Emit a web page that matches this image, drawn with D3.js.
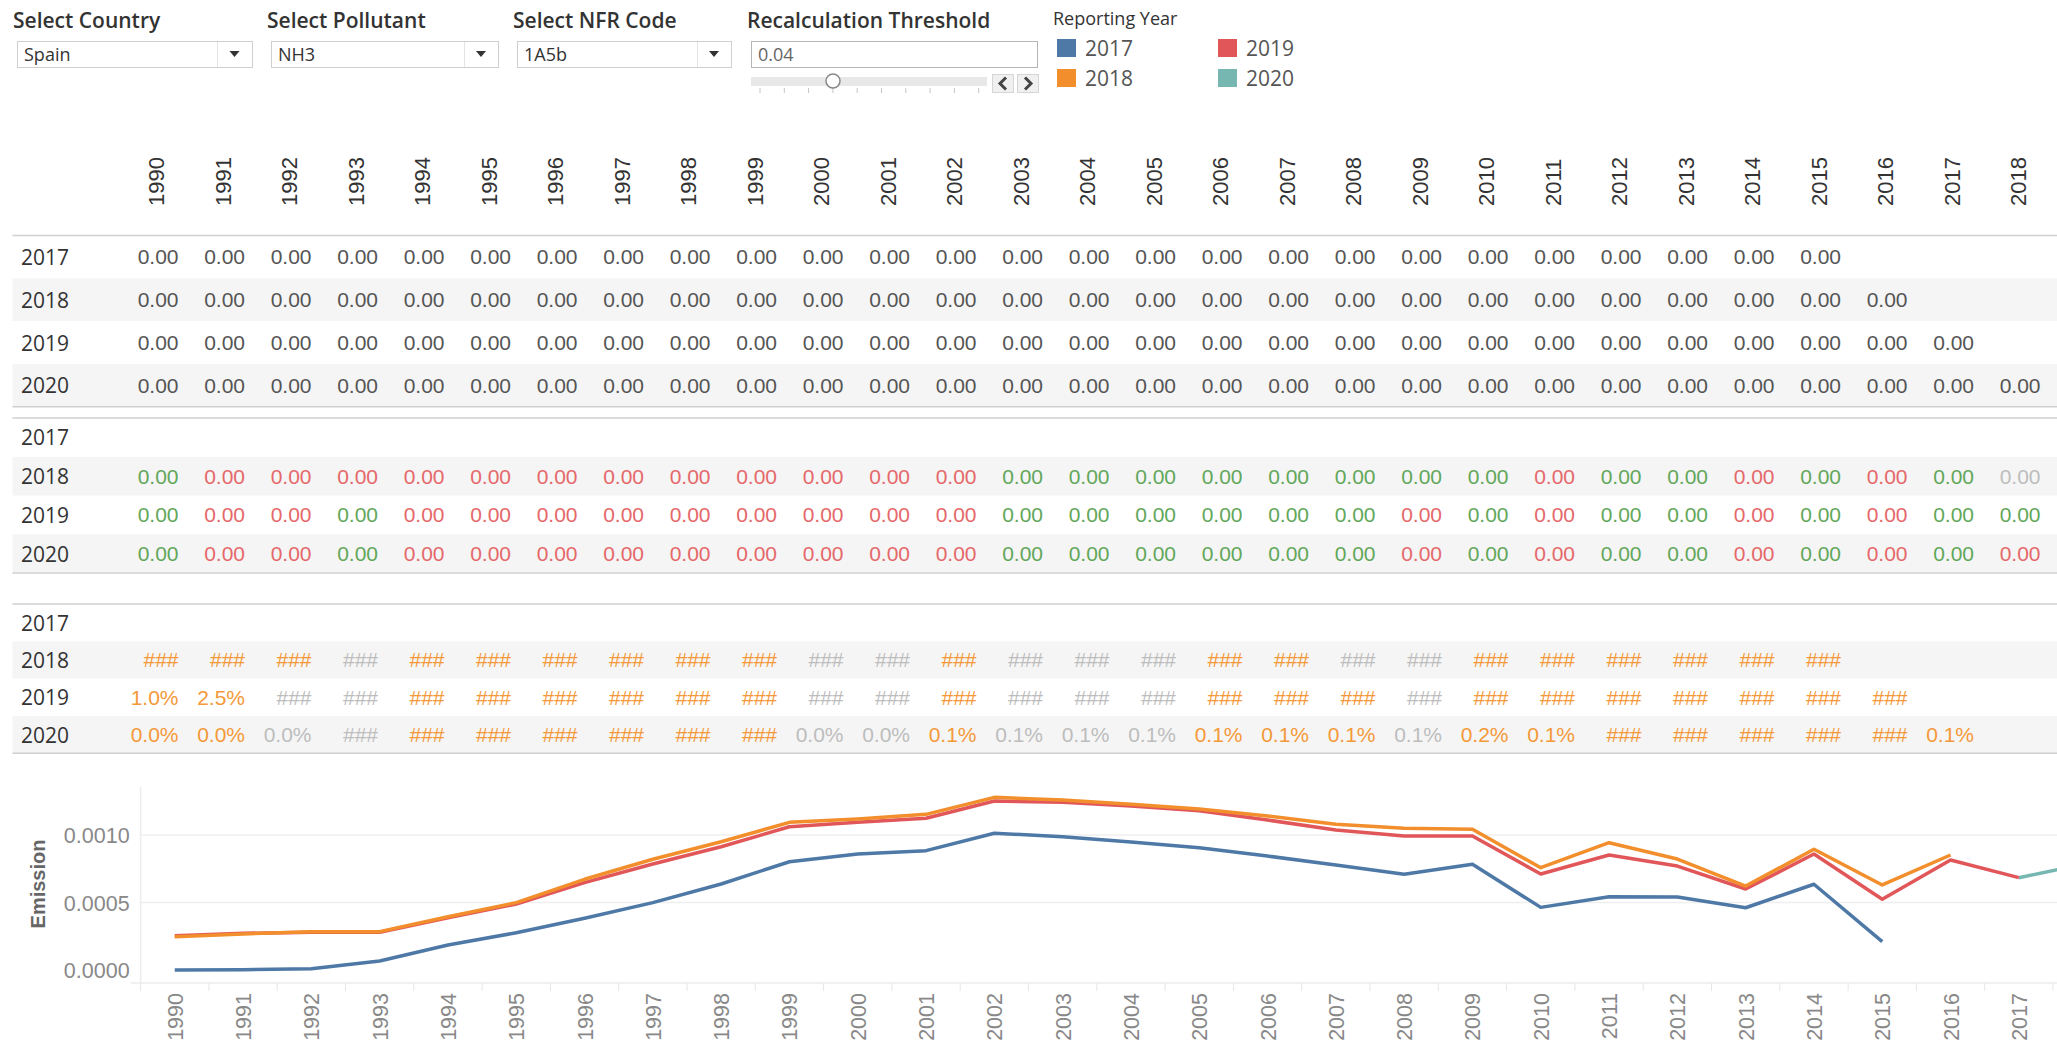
<!DOCTYPE html>
<html>
<head>
<meta charset="utf-8">
<script src="https://cdnjs.cloudflare.com/ajax/libs/d3/7.8.5/d3.min.js"></script>
<style>
  body { margin: 0; background: #fff; }
  svg { display: block; }
</style>
</head>
<body>
<div id="chart"></div>
<script>
// Inventory years (columns) and reporting years (rows / series)
const years = ['1990','1991','1992','1993','1994','1995','1996','1997','1998','1999',
               '2000','2001','2002','2003','2004','2005','2006','2007','2008','2009',
               '2010','2011','2012','2013','2014','2015','2016','2017','2018'];
const reportingYears = ['2017', '2018', '2019', '2020'];

// Emission per reporting year, starting 1990
const emission2017 = [0.000000, 0.000002, 0.000010, 0.000067, 0.000185, 0.000276, 0.000383, 0.000499,
                      0.000637, 0.000802, 0.000859, 0.000884, 0.001013, 0.000987, 0.000948, 0.000906,
                      0.000844, 0.000778, 0.000709, 0.000783, 0.000464, 0.000543, 0.000540, 0.000461,
                      0.000635, 0.000210];
const emission2018 = [0.000247, 0.000267, 0.000284, 0.000284, 0.000395, 0.000499, 0.000672, 0.000820,
                      0.000950, 0.001094, 0.001119, 0.001153, 0.001279, 0.001259, 0.001227, 0.001193,
                      0.001141, 0.001079, 0.001050, 0.001042, 0.000758, 0.000943, 0.000822, 0.000622,
                      0.000894, 0.000630, 0.000852];
const emission2019 = [0.000254, 0.000272, 0.000279, 0.000279, 0.000387, 0.000489, 0.000647, 0.000785,
                      0.000913, 0.001061, 0.001094, 0.001124, 0.001252, 0.001242, 0.001215, 0.001180,
                      0.001111, 0.001037, 0.000993, 0.000993, 0.000711, 0.000852, 0.000770, 0.000600,
                      0.000859, 0.000524, 0.000815, 0.000684];
// 2020 only shows where it leaves the 2019 line
const emission2020 = [null, null, null, null, null, null, null, null, null, null,
                      null, null, null, null, null, null, null, null, null, null,
                      null, null, null, null, null, null, null, 0.000684, 0.000789];

// Table 1: number of filled cells per reporting year
const diffCounts = [26, 27, 28, 29];
// Table 2: colour codes per cell (g = green, r = red, n = grey)
const changeCodes = {
    '2018': 'grrrrrrrrrrrrggggggggrggrgrgn',
    '2019': 'grrgrrrrrrrrrggggggrgrggrgrgg',
    '2020': 'grrgrrrrrrrrrggggggrgrggrgrgr'
};
// Table 3: recalculation text and colour (o = orange, n = grey)
const recalcText2018 = ['###','###','###','###','###','###','###','###','###','###','###','###','###',
                        '###','###','###','###','###','###','###','###','###','###','###','###','###'];
const recalcText2019 = ['1.0%','2.5%','###','###','###','###','###','###','###','###','###','###','###',
                        '###','###','###','###','###','###','###','###','###','###','###','###','###','###'];
const recalcText2020 = ['0.0%','0.0%','0.0%','###','###','###','###','###','###','###','0.0%','0.0%',
                        '0.1%','0.1%','0.1%','0.1%','0.1%','0.1%','0.1%','0.1%','0.2%','0.1%',
                        '###','###','###','###','###','0.1%'];
const recalcCodes = {
    '2018': 'ooonoooooonnonnnoonnoooooo',
    '2019': 'oonnoooooonnonnnooonooooooo',
    '2020': 'oonnoooooonnonnnooonoooooooo'
};

const filters = [
    { title: 'Select Country', value: 'Spain', x: 17, w: 235, div: 217 },
    { title: 'Select Pollutant', value: 'NH3', x: 271, w: 227, div: 464 },
    { title: 'Select NFR Code', value: '1A5b', x: 517, w: 214, div: 697 }
];

const seriesColor = d3.scaleOrdinal()
    .domain(reportingYears)
    .range(['#4e79a7', '#f28e2b', '#e15759', '#76b7b2']);
const cellColor = { g: '#62a75a', r: '#e5686a', n: '#bdbdbd', o: '#f4993a' };

const W = 2057, H = 1048;
const tableFont = '"Liberation Sans", Arial, sans-serif';
const uiFont = '"Open Sans", "Noto Sans", sans-serif';

const svg = d3.select('#chart').append('svg')
    .attr('width', W)
    .attr('height', H);

// ---- filter controls ----
const ctrl = svg.append('g');

filters.forEach(f => {
    ctrl.append('text')
        .attr('x', f.x - 4).attr('y', 28)
        .attr('font-family', uiFont).attr('font-size', 21).attr('font-weight', 600)
        .attr('fill', '#333')
        .text(f.title);
    ctrl.append('rect')
        .attr('x', f.x + 0.5).attr('y', 41.5)
        .attr('width', f.w).attr('height', 26)
        .attr('fill', '#fff').attr('stroke', '#cfcfcf');
    ctrl.append('line')
        .attr('x1', f.div + 0.5).attr('x2', f.div + 0.5)
        .attr('y1', 42).attr('y2', 67)
        .attr('stroke', '#e4e4e4');
    const ax = (f.div + f.x + f.w) / 2;
    ctrl.append('path')
        .attr('d', `M${ax - 5},51 L${ax + 5},51 L${ax},57 Z`)
        .attr('fill', '#333');
    ctrl.append('text')
        .attr('x', f.x + 7).attr('y', 61)
        .attr('font-family', uiFont).attr('font-size', 18)
        .attr('fill', '#333')
        .text(f.value);
});

// threshold parameter
ctrl.append('text')
    .attr('x', 747).attr('y', 28)
    .attr('font-family', uiFont).attr('font-size', 21).attr('font-weight', 600)
    .attr('fill', '#333')
    .text('Recalculation Threshold');
ctrl.append('rect')
    .attr('x', 751.5).attr('y', 41.5).attr('width', 286).attr('height', 26)
    .attr('fill', '#fff').attr('stroke', '#b5b5b5');
ctrl.append('text')
    .attr('x', 758).attr('y', 61)
    .attr('font-family', uiFont).attr('font-size', 18)
    .attr('fill', '#666')
    .text('0.04');
ctrl.append('rect')
    .attr('x', 751).attr('y', 77).attr('width', 236).attr('height', 9)
    .attr('fill', '#e8e8e8');
d3.range(10).forEach(i => {
    ctrl.append('line')
        .attr('x1', 760 + i * 24.3).attr('x2', 760 + i * 24.3)
        .attr('y1', 88).attr('y2', 93)
        .attr('stroke', '#c4c4c4');
});
ctrl.append('circle')
    .attr('cx', 833).attr('cy', 81).attr('r', 7)
    .attr('fill', '#fff').attr('stroke', '#888').attr('stroke-width', 1.5);
[[992, '<'], [1017, '>']].forEach(([bx, ch]) => {
    ctrl.append('rect')
        .attr('x', bx + 0.5).attr('y', 74.5).attr('width', 21).attr('height', 18)
        .attr('fill', '#f0f0f0').attr('stroke', '#d6d6d6');
    const cx = bx + 11;
    const dir = ch === '<' ? 1 : -1;
    ctrl.append('path')
        .attr('d', `M${cx + 3 * dir},77.5 L${cx - 3 * dir},83.5 L${cx + 3 * dir},89.5`)
        .attr('fill', 'none').attr('stroke', '#444').attr('stroke-width', 3);
});

// legend
ctrl.append('text')
    .attr('x', 1053).attr('y', 25)
    .attr('font-family', uiFont).attr('font-size', 18)
    .attr('fill', '#333')
    .text('Reporting Year');
reportingYears.forEach((ry, i) => {
    const lx = i < 2 ? 1057 : 1218;
    const ly = i % 2 === 0 ? 39 : 69;
    ctrl.append('rect')
        .attr('x', lx).attr('y', ly).attr('width', 19).attr('height', 18)
        .attr('fill', seriesColor(ry));
    ctrl.append('text')
        .attr('x', lx + 28).attr('y', ly + 9)
        .attr('dominant-baseline', 'central')
        .attr('font-family', uiFont).attr('font-size', 21)
        .attr('fill', '#555')
        .text(ry);
});

// ---- crosstabs ----
const xTable = d3.scaleBand()
    .domain(years)
    .range([123, 123 + 66.5 * years.length]);

function drawTable(top, rowH, cells) {
    const yRow = d3.scaleBand()
        .domain(reportingYears)
        .range([top, top + rowH * reportingYears.length]);
    const g = svg.append('g');

    g.selectAll('rect.band')
        .data(['2018', '2020'])
        .enter().append('rect')
        .attr('x', 12.5).attr('width', W)
        .attr('y', d => yRow(d)).attr('height', yRow.bandwidth())
        .attr('fill', '#f5f5f5');

    g.selectAll('text.row')
        .data(reportingYears)
        .enter().append('text')
        .attr('x', 21)
        .attr('y', d => yRow(d) + yRow.bandwidth() / 2)
        .attr('dominant-baseline', 'central')
        .attr('font-family', uiFont).attr('font-size', 21)
        .attr('fill', '#333')
        .text(d => d);

    g.selectAll('text.cell')
        .data(cells)
        .enter().append('text')
        .attr('x', d => xTable(d.year) + xTable.bandwidth() - 11)
        .attr('y', d => yRow(d.row) + yRow.bandwidth() / 2)
        .attr('dominant-baseline', 'central')
        .attr('text-anchor', 'end')
        .attr('font-family', tableFont).attr('font-size', 21)
        .attr('fill', d => d.color)
        .text(d => d.text);

    [top, top + rowH * reportingYears.length].forEach(ly => {
        g.append('line')
            .attr('x1', 12.5).attr('x2', W)
            .attr('y1', ly).attr('y2', ly)
            .attr('stroke', '#d0d0d0').attr('stroke-width', 1.5);
    });
}

// column headers
svg.append('g').selectAll('text')
    .data(years)
    .enter().append('text')
    .attr('transform', d => `translate(${xTable(d) + xTable.bandwidth() / 2 + 8},206) rotate(-90)`)
    .attr('font-family', tableFont).attr('font-size', 22)
    .attr('fill', '#333')
    .text(d => d);

const diffCells = [];
reportingYears.forEach((ry, i) => {
    years.slice(0, diffCounts[i]).forEach(y => {
        diffCells.push({ row: ry, year: y, text: '0.00', color: '#555' });
    });
});
drawTable(235.5, 42.8, diffCells);

const changeCells = [];
Object.keys(changeCodes).forEach(ry => {
    changeCodes[ry].split('').forEach((c, j) => {
        changeCells.push({ row: ry, year: years[j], text: '0.00', color: cellColor[c] });
    });
});
drawTable(418, 38.75, changeCells);

const recalcTexts = { '2018': recalcText2018, '2019': recalcText2019, '2020': recalcText2020 };
const recalcCells = [];
Object.keys(recalcCodes).forEach(ry => {
    recalcCodes[ry].split('').forEach((c, j) => {
        recalcCells.push({ row: ry, year: years[j], text: recalcTexts[ry][j], color: cellColor[c] });
    });
});
drawTable(604, 37.3, recalcCells);

// ---- emission line chart ----
const plotLeft = 140.6, plotTop = 787, plotBottom = 983;
const x = d3.scaleBand()
    .domain(years)
    .range([plotLeft, plotLeft + 68.3 * years.length]);
const y = d3.scaleLinear()
    .domain([-0.0000963, 0.0013556])
    .range([plotBottom, plotTop]);

const chart = svg.append('g');

chart.selectAll('line.grid')
    .data([0.0005, 0.001])
    .enter().append('line')
    .attr('x1', plotLeft).attr('x2', W)
    .attr('y1', d => y(d)).attr('y2', d => y(d))
    .attr('stroke', '#efefef').attr('stroke-width', 1.5);

chart.append('line')
    .attr('x1', plotLeft).attr('x2', plotLeft)
    .attr('y1', plotTop).attr('y2', plotBottom)
    .attr('stroke', '#ececec').attr('stroke-width', 1.5);
chart.append('line')
    .attr('x1', plotLeft - 10).attr('x2', W)
    .attr('y1', plotBottom).attr('y2', plotBottom)
    .attr('stroke', '#ececec').attr('stroke-width', 1.5);

// x axis: ticks between bands, rotated labels (the last year falls outside the view)
const visibleYears = years.filter(d => x(d) + x.bandwidth() / 2 < W);
const xAxis = chart.append('g')
    .attr('transform', `translate(0,${plotBottom})`)
    .call(d3.axisBottom(x).tickValues(visibleYears).tickSize(0).tickFormat(d => d));
xAxis.select('.domain').remove();
xAxis.selectAll('text')
    .attr('transform', 'translate(8,10) rotate(-90)')
    .attr('x', 0).attr('y', 0).attr('dy', 0)
    .attr('text-anchor', 'end')
    .attr('font-family', tableFont).attr('font-size', 21.5)
    .attr('fill', '#888');
chart.selectAll('line.xtick')
    .data(years)
    .enter().append('line')
    .attr('x1', d => x(d)).attr('x2', d => x(d))
    .attr('y1', plotBottom).attr('y2', plotBottom + 8)
    .attr('stroke', '#e6e6e6');

const yAxis = chart.append('g')
    .attr('transform', `translate(${plotLeft - 11},0)`)
    .call(d3.axisLeft(y).tickValues([0, 0.0005, 0.001]).tickSize(0).tickFormat(d3.format('.4f')));
yAxis.select('.domain').remove();
yAxis.selectAll('text')
    .attr('x', 0).attr('dy', '0.35em')
    .attr('font-family', tableFont).attr('font-size', 21.5)
    .attr('fill', '#888');

chart.append('text')
    .attr('transform', 'translate(45,884) rotate(-90)')
    .attr('text-anchor', 'middle')
    .attr('font-family', tableFont).attr('font-size', 20).attr('font-weight', 'bold')
    .attr('fill', '#666')
    .text('Emission');

const series = [
    { key: '2020', values: emission2020 },
    { key: '2019', values: emission2019 },
    { key: '2018', values: emission2018 },
    { key: '2017', values: emission2017 }
];
const line = d3.line()
    .defined(d => d.v !== null)
    .x(d => x(d.year) + x.bandwidth() / 2)
    .y(d => y(d.v));

chart.selectAll('path.series')
    .data(series)
    .enter().append('path')
    .attr('d', s => line(s.values.map((v, i) => ({ year: years[i], v: v }))))
    .attr('fill', 'none')
    .attr('stroke', s => seriesColor(s.key))
    .attr('stroke-width', 3.5)
    .attr('stroke-linejoin', 'round');
</script>
</body>
</html>
